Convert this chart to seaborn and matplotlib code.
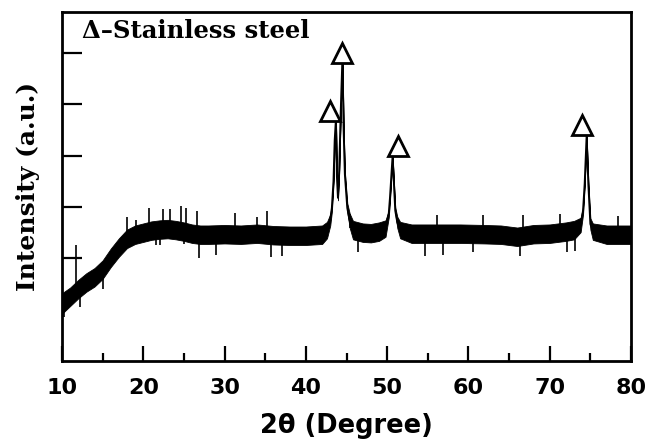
import numpy as np
import pandas as pd
import matplotlib
matplotlib.use("Agg")
import matplotlib.pyplot as plt
import seaborn as sns

# XRD pattern: mean trace (2-theta in degrees, intensity in a.u.)
two_theta = [10, 11, 12, 13, 14, 15, 16, 17, 18, 19, 20, 21, 22, 23, 24, 25, 26, 27, 28,
             30, 32, 34, 36, 38, 40, 42, 42.6, 43.0, 43.2, 43.4, 43.55, 43.7, 43.82, 43.95,
             44.1, 44.3, 44.5, 44.65, 44.8, 45.1, 45.4, 45.8, 47, 48, 49, 49.8, 50.2, 50.35,
             50.67, 51.0, 51.25, 51.6, 53, 56, 59, 62, 64, 66, 68, 70, 72, 73, 73.8, 74.1,
             74.3, 74.54, 74.75, 75.0, 75.3, 77, 80]
intensity = [1.12, 1.25, 1.40, 1.53, 1.63, 1.78, 2.01, 2.21, 2.38, 2.46, 2.50, 2.54, 2.56,
             2.57, 2.55, 2.52, 2.48, 2.46, 2.46, 2.47, 2.46, 2.48, 2.45, 2.44, 2.44, 2.46,
             2.55, 2.75, 2.98, 3.50, 4.30, 4.71, 3.60, 3.18, 3.70, 4.90, 5.90, 4.50, 3.64,
             2.98, 2.73, 2.55, 2.50, 2.49, 2.52, 2.58, 2.87, 3.18, 3.99, 2.93, 2.70, 2.55,
             2.48, 2.48, 2.48, 2.47, 2.46, 2.42, 2.47, 2.48, 2.52, 2.55, 2.65, 2.93, 3.45,
             4.38, 3.45, 2.67, 2.52, 2.46, 2.46]
# half-width of the dense noise band around the mean trace
noise_half = [0.20, 0.18, 0.18, 0.18, 0.18, 0.18, 0.18, 0.18, 0.18, 0.18, 0.18, 0.18, 0.18,
              0.18, 0.18, 0.18, 0.18, 0.18, 0.18, 0.18, 0.18, 0.18, 0.18, 0.18, 0.18, 0.18,
              0.16, 0.11, 0.07, 0.05, 0.03, 0.0, 0.03, 0.05, 0.04, 0.03, 0.0, 0.03, 0.05,
              0.09, 0.14, 0.18, 0.18, 0.18, 0.18, 0.16, 0.07, 0.05, 0.0, 0.06, 0.11, 0.16,
              0.18, 0.18, 0.18, 0.18, 0.18, 0.18, 0.18, 0.18, 0.18, 0.18, 0.14, 0.07, 0.04,
              0.0, 0.04, 0.11, 0.16, 0.18, 0.18]

# isolated noise spikes (position, lowest, highest)
spike_theta = [10.2, 11.72, 12.2, 15.0, 17.96, 19.1, 20.74, 21.6, 22.0, 22.4, 23.3, 24.6,
               25.0, 25.3, 26.57, 26.9, 29.0, 31.3, 33.95, 35.2, 35.7, 37.1, 45.4, 46.45,
               54.65, 56.1, 56.9, 60.5, 61.8, 66.3, 66.7, 71.25, 72.1, 73.1, 78.4]
spike_low = [0.85, 1.41, 1.05, 1.40, 2.30, 2.30, 2.40, 2.25, 2.25, 2.40, 2.40, 2.40,
             2.28, 2.40, 2.40, 2.00, 2.07, 2.40, 2.40, 2.40, 2.02, 2.05, 2.60, 2.12,
             2.05, 2.45, 2.07, 2.12, 2.45, 2.05, 2.45, 2.50, 2.12, 2.15, 2.50]
spike_high = [1.20, 2.25, 1.45, 1.80, 2.80, 2.74, 2.99, 2.60, 2.60, 2.97, 2.97, 3.02,
              2.60, 2.98, 2.93, 2.50, 2.45, 2.89, 2.80, 2.93, 2.40, 2.40, 2.87, 2.50,
              2.45, 2.85, 2.45, 2.45, 2.85, 2.45, 2.85, 2.87, 2.50, 2.50, 2.83]

# stainless-steel reflections and where their markers sit
peak_theta = [43.7, 44.5, 50.67, 74.54]
peak_height = [4.71, 5.90, 3.99, 4.38]
marker_dx = [-0.75, 0.0, 0.70, -0.55]
marker_dy = [0.17, 0.10, 0.20, 0.22]

legend_text = "Δ–Stainless steel"
x_ticks = [10, 20, 30, 40, 50, 60, 70, 80]

df = pd.DataFrame({"two_theta": two_theta, "intensity": intensity, "half": noise_half})

sns.set_style("ticks")
plt.rcParams.update({"text.color": "black", "axes.labelcolor": "black",
                     "xtick.color": "black", "ytick.color": "black"})
fig = plt.figure(figsize=(6.49, 4.44), dpi=100)
ax = fig.add_axes([0.0955, 0.187, 0.8768, 0.786])

ax.fill_between(df["two_theta"], df["intensity"] - df["half"], df["intensity"] + df["half"],
                color="black", linewidth=0.6)
ax.vlines(spike_theta, spike_low, spike_high, color="black", linewidth=1.2)
sns.lineplot(data=df, x="two_theta", y="intensity", ax=ax, color="black", linewidth=1.4,
             estimator=None, sort=True)

mx = np.array(peak_theta) + np.array(marker_dx)
my = np.array(peak_height) + np.array(marker_dy)
ax.plot(mx, my, linestyle="none", marker="^", markersize=14, markerfacecolor="white",
        markeredgecolor="black", markeredgewidth=2.0, zorder=5)

ax.text(0.035, 0.945, legend_text, transform=ax.transAxes, ha="left", va="center",
        fontsize=17.5, fontweight="bold", family=["DejaVu Serif"], color="black")

ax.set_xlim(10, 80)
ax.set_ylim(0, 6.8)
ax.set_xticks(x_ticks)
ax.set_xticks([15, 25, 35, 45, 55, 65, 75], minor=True)
ax.set_yticks([2, 3, 4, 5, 6])
ax.set_yticklabels([])
ax.tick_params(axis="x", which="major", direction="in", length=11, width=1.6, pad=12,
               labelsize=16, colors="black")
ax.tick_params(axis="x", which="minor", direction="in", length=6, width=1.6, colors="black")
ax.tick_params(axis="y", which="major", direction="in", length=14.5, width=1.6, colors="black")
for lab in ax.get_xticklabels():
    lab.set_fontfamily("DejaVu Sans")
    lab.set_fontweight("bold")
for sp in ax.spines.values():
    sp.set_linewidth(2.0)
    sp.set_color("black")

ax.set_xlabel("2θ (Degree)", fontsize=18.5, fontweight="bold", family="DejaVu Sans",
              labelpad=11, color="black")
ax.set_ylabel("Intensity (a.u.)", fontsize=18, fontweight="bold", family="DejaVu Serif",
              labelpad=12, color="black")

fig.savefig("out.png", dpi=100)
